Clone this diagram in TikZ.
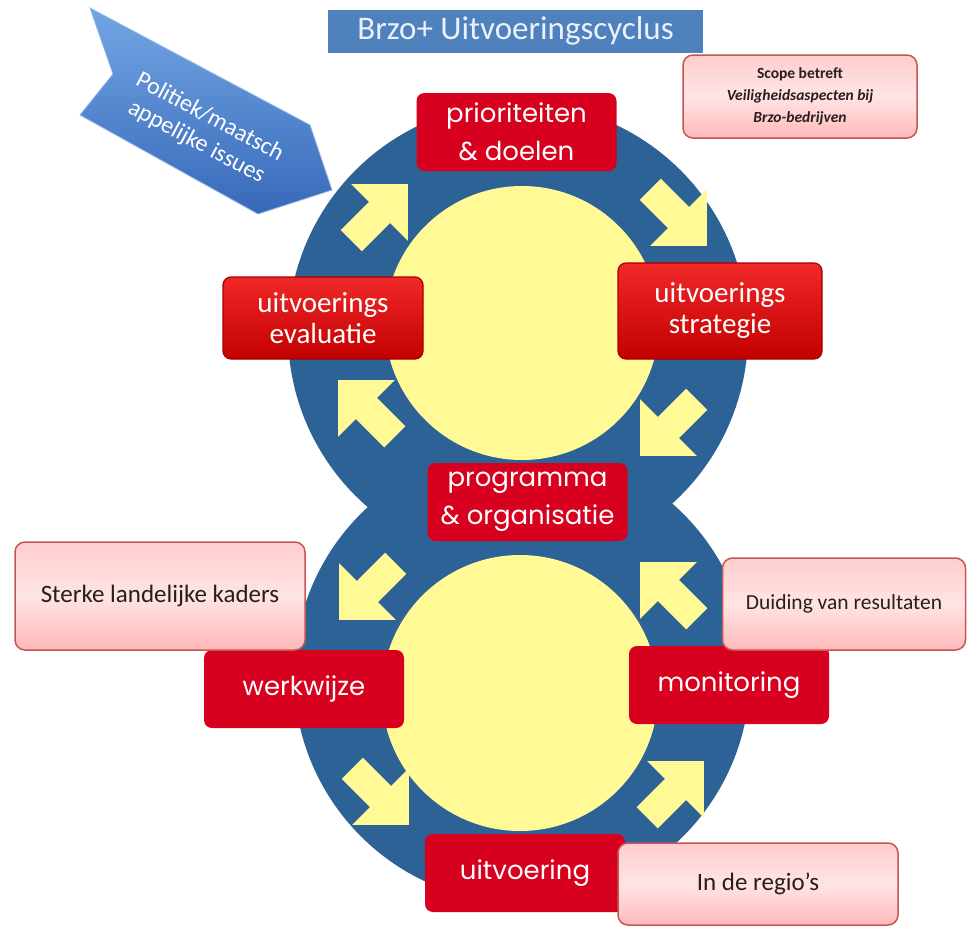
\documentclass[tikz,border=0pt]{standalone}
\usepackage{fontspec}
\setmainfont{Carlito}
\newfontfamily\gothic{Poppins}
\definecolor{ringblue}{RGB}{45,98,150}
\definecolor{paleyellow}{RGB}{255,250,150}
\definecolor{boxred}{RGB}{215,0,30}
\definecolor{shinytop}{RGB}{240,40,40}
\definecolor{shinybot}{RGB}{195,0,0}
\definecolor{shinyedge}{RGB}{165,0,0}
\definecolor{pinktop}{RGB}{255,205,205}
\definecolor{pinkmid}{RGB}{255,228,228}
\definecolor{pinkbot}{RGB}{255,185,185}
\definecolor{pinkedge}{RGB}{200,85,85}
\definecolor{titleblue}{RGB}{79,129,189}
\definecolor{titletext}{RGB}{235,240,250}
\definecolor{ribtop}{RGB}{115,165,228}
\definecolor{ribbot}{RGB}{55,105,185}
\definecolor{pinktext}{RGB}{40,30,30}
\newcommand\yarrow[3]{\fill[paleyellow,shift={(#1,#2)},rotate=#3]
  (45,0) -- (5,40) -- (5,15) -- (-35,15) -- (-35,-15) -- (5,-15) -- (5,-40) -- cycle;}
\tikzset{
  redbox/.style={fill=boxred, rounded corners=8pt, minimum width=200pt, minimum height=78pt,
    text=white, align=center, inner sep=0pt, font=\gothic\fontsize{26}{38}\selectfont},
  shinybox/.style={rounded corners=8pt, top color=shinytop, bottom color=shinybot, draw=shinyedge,
    line width=1.2pt, text=white, align=center, inner sep=0pt, font=\fontsize{29}{31}\selectfont},
  pinkbox/.style={rounded corners=10pt, draw=pinkedge, line width=1.5pt, top color=pinktop,
    bottom color=pinkbot, middle color=pinkmid, text=pinktext, align=center, inner sep=0pt},
}
\begin{document}
\begin{tikzpicture}[x=1pt,y=-1pt]
\useasboundingbox (0,0) rectangle (969,927);
\fill[white] (0,0) rectangle (969,927);
% figure eight
\fill[ringblue] (518,333) circle[radius=230pt];
\fill[ringblue] (522,675) circle[radius=228pt];
\fill[paleyellow] (522,323) circle[radius=137pt];
\fill[paleyellow] (520,693) circle[radius=138pt];
% arrows top circle
\yarrow{376}{216}{45}
\yarrow{675}{214}{-45}
\yarrow{672}{424}{-135}
\yarrow{370}{412}{135}
% arrows bottom circle
\yarrow{371}{588}{-135}
\yarrow{672}{594}{135}
\yarrow{377}{793}{-45}
\yarrow{672}{793}{45}
% red boxes
\node[redbox] (prio) at (516.5,132) {prioriteiten\\\& doelen};
\node[shinybox, minimum width=200pt, minimum height=82pt] (eval) at (323,318) {uitvoerings\\evaluatie};
\node[shinybox, minimum width=204pt, minimum height=96pt] (strat) at (720,311) {uitvoerings\\strategie};
\node[redbox] (prog) at (527.5,502) {programma\\\& organisatie};
\node[redbox] (werk) at (304,689) {werkwijze};
\node[redbox] (moni) at (729,685) {monitoring};
\node[redbox] (uitv) at (525,873) {uitvoering};
% pink boxes
\node[pinkbox, minimum width=234pt, minimum height=83pt, font=\fontsize{15.5}{22}\selectfont] (scope) at (800,96.5)
  {\textbf{Scope betreft}\\\textbf{\textit{Veiligheidsaspecten bij}}\\\textbf{\textit{Brzo-bedrijven}}};
\node[pinkbox, minimum width=290pt, minimum height=108pt, font=\fontsize{25}{28}\selectfont] (sterke) at (160,596) {Sterke landelijke kaders};
\node[pinkbox, minimum width=243pt, minimum height=92pt, font=\fontsize{21.5}{24}\selectfont] (duid) at (844,604) {Duiding van resultaten};
\node[pinkbox, minimum width=280pt, minimum height=82pt, font=\fontsize{25}{28}\selectfont] (regio) at (758,884) {In de regio’s};
% title
\node[fill=titleblue, minimum width=375pt, minimum height=43pt, inner sep=0pt, text=titletext,
  font=\fontsize{33}{36}\selectfont] (title) at (515.5,31) {Brzo+ Uitvoeringscyclus};
% ribbon
\shade[top color=ribtop, bottom color=ribbot, draw=ribtop!80!white, line width=0.8pt]
  (90,8) -- (310,125) -- (332,190) -- (258,214) -- (80,115) -- (113,74) -- cycle;
\node[rotate=-28, text=white, align=center, inner sep=0pt, font=\fontsize{24}{28}\selectfont] (rib) at (203,130)
  {Politiek/maatsch\\appelijke issues};
\end{tikzpicture}
\end{document}
